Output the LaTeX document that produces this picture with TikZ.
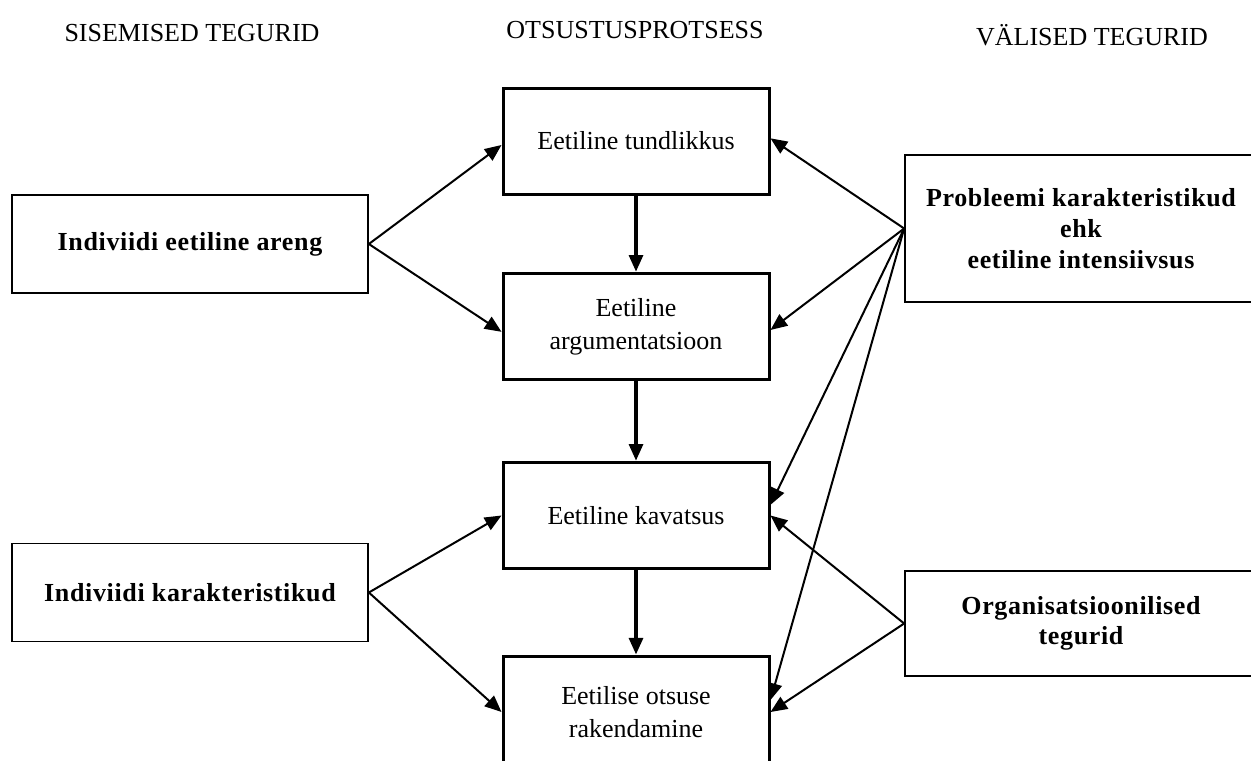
\documentclass[tikz,border=0pt]{standalone}
\usepackage{fontspec}
\setmainfont{Liberation Serif}
\newfontfamily\spacedbf[LetterSpace=2.5]{Liberation Serif}
\usepackage{tikz}
\usetikzlibrary{arrows.meta, positioning}

\tikzset{
  procbox/.style={draw, line width=2.25pt, minimum width=199.5pt, align=center,
    font=\fontsize{19.5}{24.5}\selectfont},
  factorbox/.style={draw, line width=1.3pt, align=center,
    font=\spacedbf\bfseries\fontsize{19.5}{23}\selectfont},
  header/.style={font=\fontsize{19.5}{23}\selectfont},
  arr/.style={-{Triangle[length=12.5pt,width=10.5pt]}, line width=1.5pt},
  downarr/.style={-{Triangle[length=12.5pt,width=10.5pt]}, line width=2.4pt}
}

\begin{document}
\begin{tikzpicture}[x=0.75pt, y=-0.75pt]
\useasboundingbox (0,0) rectangle (1251,760);
%\draw[step=50,gray,very thin] (0,0) grid (1251,760);

% column headers
\node[header] (hsis) at (192,33) {SISEMISED TEGURID};
\node[header] (hots) at (635,30) {OTSUSTUSPROTSESS};
\node[header] (hval) at (1092,35) {VÄLISED TEGURID};

% decision process
\node[procbox, minimum height=79.5pt] (c1) at (636,141) {Eetiline tundlikkus};
\node[procbox, minimum height=80pt] (c2) at (636,326.5) {Eetiline\\argumentatsioon};
\node[procbox, minimum height=80pt] (c3) at (636,515.5) {Eetiline kavatsus};
\node[procbox, minimum height=84pt] (c4) at (636,712) {Eetilise otsuse\\rakendamine};

% internal factors
\node[factorbox, minimum width=267pt, minimum height=73.5pt] (sis1) at (190,244) {Indiviidi eetiline areng};
\node[factorbox, minimum width=267pt, minimum height=73.5pt] (sis2) at (190,592.5) {Indiviidi karakteristikud};

% external factors
\node[factorbox, minimum width=264pt, minimum height=110pt] (val1) at (1081,228.5) {Probleemi karakteristikud\\ehk\\eetiline intensiivsus};
\node[factorbox, minimum width=264pt, minimum height=79pt] (val2) at (1081,623.5) {Organisatsioonilised\\tegurid};

% process flow
\draw[downarr] (c1.south) -- (c2.north);
\draw[downarr] (c2.south) -- (c3.north);
\draw[downarr] (c3.south) -- (c4.north);

% internal -> process
\draw[arr] (sis1.east) -- ([yshift=-3pt]c1.west);
\draw[arr] (sis1.east) -- ([yshift=-4pt]c2.west);
\draw[arr] (sis2.east) -- (c3.west);
\draw[arr] (sis2.east) -- (c4.west);

% external -> process
\draw[arr] (val1.west) -- ([yshift=2pt]c1.east);
\draw[arr] (val1.west) -- ([yshift=-2.6pt]c2.east);
\draw[arr] (val1.west) -- ([yshift=8pt]c3.east);
\draw[arr] (val1.west) -- ([yshift=9pt]c4.east);
\draw[arr] (val2.west) -- (c3.east);
\draw[arr] (val2.west) -- (c4.east);
\end{tikzpicture}
\end{document}
